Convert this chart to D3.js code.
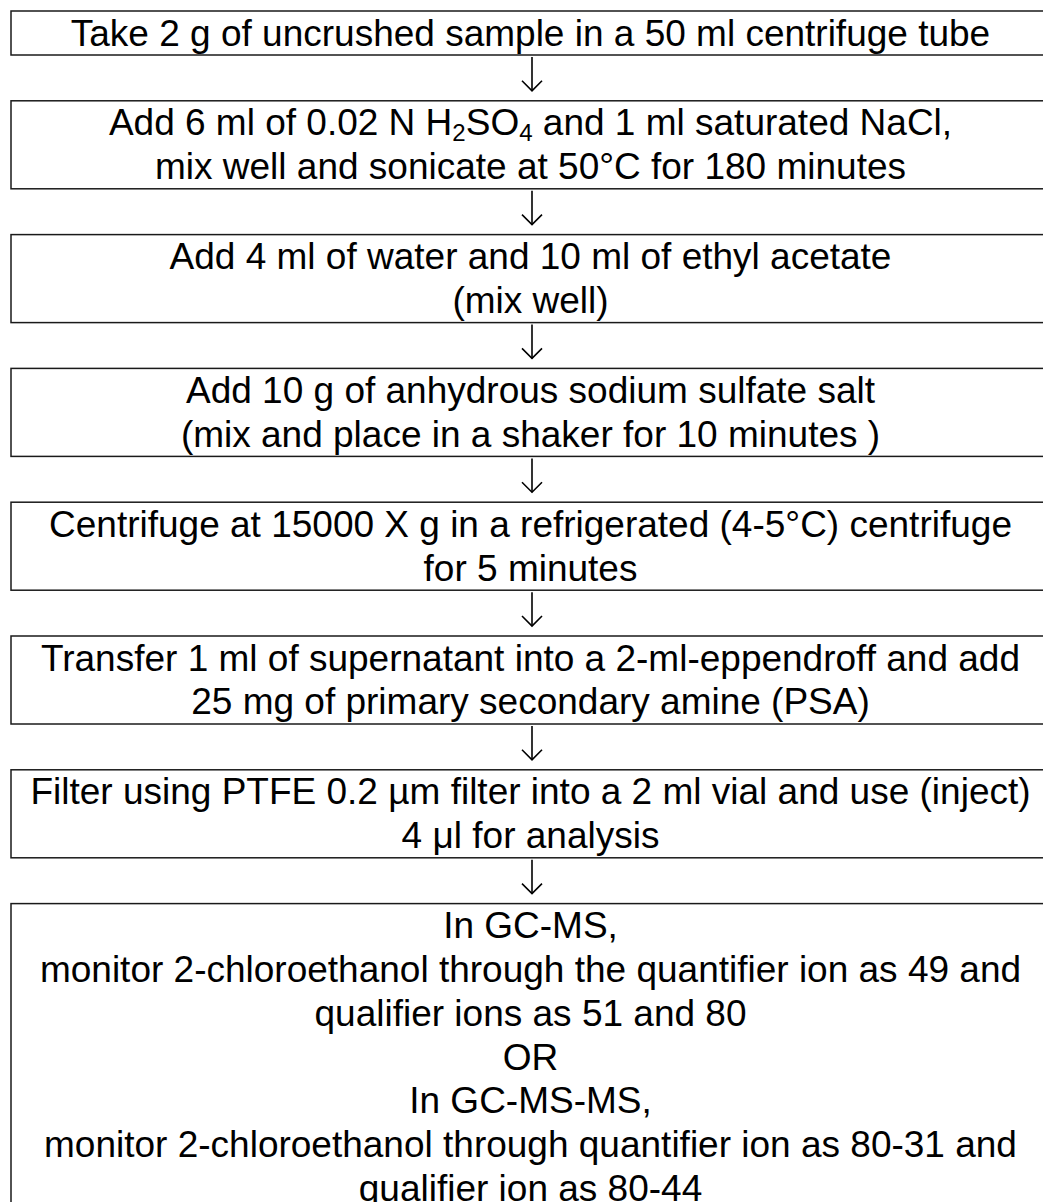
<!DOCTYPE html>
<html><head><meta charset="utf-8">
<script src="https://cdn.jsdelivr.net/npm/d3@7"></script>
<style>html,body{margin:0;padding:0;background:#fff;overflow:hidden}</style>
</head><body>
<svg id="chart" width="1043" height="1202"></svg>
<script>
// Flowchart steps (each entry = lines of text; "_n" marks a subscript)
const step1 = ["Take 2 g of uncrushed sample in a 50 ml centrifuge tube"];
const step2 = ["Add 6 ml of 0.02 N H_2SO_4 and 1 ml saturated NaCl,", "mix well and sonicate at 50\u00B0C for 180 minutes"];
const step3 = ["Add 4 ml of water and 10 ml of ethyl acetate", "(mix well)"];
const step4 = ["Add 10 g of anhydrous sodium sulfate salt", "(mix and place in a shaker for 10 minutes )"];
const step5 = ["Centrifuge at 15000 X g in a refrigerated (4-5\u00B0C) centrifuge", "for 5 minutes"];
const step6 = ["Transfer 1 ml of supernatant into a 2-ml-eppendroff and add", "25 mg of primary secondary amine (PSA)"];
const step7 = ["Filter using PTFE 0.2 \u00B5m filter into a 2 ml vial and use (inject)", "4 \u03BCl for analysis"];
const step8 = ["In GC-MS,", "monitor 2-chloroethanol through the quantifier ion as 49 and", "qualifier ions as 51 and 80", "OR", "In GC-MS-MS,", "monitor 2-chloroethanol through quantifier ion as 80-31 and", "qualifier ion as 80-44"];
const steps = [step1, step2, step3, step4, step5, step6, step7, step8];

const boxLineH = 44, textLineH = 43.8, gap = 45.8, top0 = 11;
const boxLeft = 11, boxRight = 1050;
const fontSize = 37;

// layout: stack boxes top to bottom
let y = top0;
const layout = steps.map((lines, i) => {
  const h = lines.length * boxLineH;
  const o = {i, lines, y, h};
  y += h + gap;
  return o;
});

const svg = d3.select("#chart");
const cx = (boxLeft + boxRight) / 2;

const g = svg.selectAll("g.step").data(layout).join("g").attr("class", "step");
g.append("rect")
  .attr("x", boxLeft).attr("y", d => d.y)
  .attr("width", boxRight - boxLeft).attr("height", d => d.h)
  .attr("fill", "#fff").attr("stroke", "#1a1a1a").attr("stroke-width", 1.5);

g.each(function(d) {
  const sel = d3.select(this);
  d.lines.forEach((line, j) => {
    const t = sel.append("text")
      .attr("x", cx)
      .attr("y", d.y + 34.5 + j * textLineH)
      .attr("text-anchor", "middle")
      .attr("font-family", "'Liberation Sans', Arial, sans-serif")
      .attr("font-size", fontSize)
      .attr("fill", "#000");
    let shift = 0;
    line.split(/(_\d)/).filter(s => s.length).forEach(part => {
      if (part.startsWith("_")) {
        t.append("tspan").attr("font-size", fontSize * 0.65).attr("dy", 6 - shift).text(part.slice(1));
        shift = 6;
      } else {
        t.append("tspan").attr("dy", -shift).text(part);
        shift = 0;
      }
    });
  });
});

// arrows between consecutive boxes
const arrows = layout.slice(0, -1).map((d, i) => ({y0: d.y + d.h + 2, y1: layout[i + 1].y - 10}));
const ax = 532;
const ag = svg.selectAll("g.arrow").data(arrows).join("g").attr("class", "arrow")
  .attr("fill", "none").attr("stroke", "#000").attr("stroke-width", 1.6);
ag.append("line").attr("x1", ax).attr("x2", ax).attr("y1", d => d.y0).attr("y2", d => d.y1);
ag.append("path").attr("d", d => `M${ax - 10},${d.y1 - 10} L${ax},${d.y1} L${ax + 10},${d.y1 - 10}`);
</script>
</body></html>
